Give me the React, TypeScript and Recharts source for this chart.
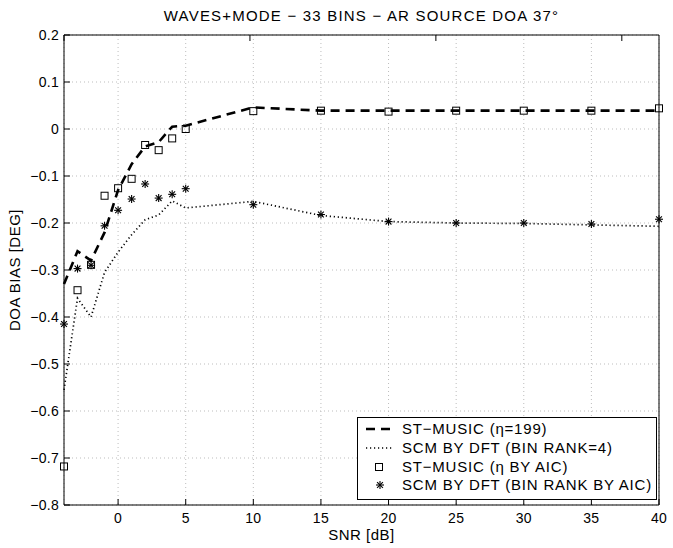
import { CartesianGrid, ComposedChart, Legend, Line, Scatter, XAxis, YAxis } from "recharts";

const snr = [-4, -3, -2, -1, 0, 1, 2, 3, 4, 5, 10, 15, 20, 25, 30, 35, 40];
const stMusicFixed = [-0.33, -0.26, -0.28, -0.22, -0.13, -0.075, -0.037, -0.028, 0.005, 0.007, 0.046, 0.039, 0.039, 0.039, 0.039, 0.039, 0.039];
const scmFixed = [-0.555, -0.36, -0.4, -0.305, -0.262, -0.225, -0.193, -0.183, -0.153, -0.168, -0.154, -0.184, -0.197, -0.2, -0.201, -0.204, -0.207];
const stMusicAic = [-0.718, -0.343, -0.289, -0.142, -0.126, -0.106, -0.034, -0.045, -0.02, 0.0, 0.038, 0.039, 0.037, 0.039, 0.039, 0.039, 0.044];
const scmAic = [-0.415, -0.297, -0.29, -0.206, -0.173, -0.149, -0.117, -0.147, -0.139, -0.127, -0.161, -0.182, -0.197, -0.2, -0.2, -0.202, -0.192];

const xTicks = [0, 5, 10, 15, 20, 25, 30, 35, 40];
const yTicks = [-0.8, -0.7, -0.6, -0.5, -0.4, -0.3, -0.2, -0.1, 0, 0.1, 0.2];

const names = [
  "ST\u2212MUSIC (\u03b7=199)",
  "SCM BY DFT (BIN RANK=4)",
  "ST\u2212MUSIC (\u03b7 BY AIC)",
  "SCM BY DFT (BIN RANK BY AIC)",
];

const data = snr.map((x, i) => ({
  snr: x,
  stFixed: stMusicFixed[i],
  scmFixed: scmFixed[i],
  stAic: stMusicAic[i],
  scmAic: scmAic[i],
}));

const font = "'Liberation Sans', Arial, Helvetica, sans-serif";
const tickStyle = { fontSize: 14, fill: "#000", fontFamily: font, letterSpacing: 0.3 };
const labelProps = { fontSize: 15, fill: "#000", fontFamily: font, letterSpacing: 0.5 };

const fmtY = (v: number) => (v === 0 ? "0" : (v < 0 ? "\u2212" : "") + Math.abs(v).toFixed(1));

function SquareMark({ cx, cy }: any) {
  if (cx == null || cy == null) return null;
  return <rect x={cx - 3.5} y={cy - 3.5} width={7} height={7} fill="none" stroke="#000" strokeWidth={1} />;
}

function StarMark({ cx, cy }: any) {
  if (cx == null || cy == null) return null;
  const r = 4;
  const d = 2.9;
  return (
    <g stroke="#000" strokeWidth={1.1}>
      <line x1={cx - r} y1={cy} x2={cx + r} y2={cy} />
      <line x1={cx} y1={cy - r} x2={cx} y2={cy + r} />
      <line x1={cx - d} y1={cy - d} x2={cx + d} y2={cy + d} />
      <line x1={cx - d} y1={cy + d} x2={cx + d} y2={cy - d} />
    </g>
  );
}

function LegendBox() {
  const swatch = (i: number) => {
    if (i === 0) return <line x1={8} y1={9} x2={35} y2={9} stroke="#000" strokeWidth={2.5} strokeDasharray="9 6" />;
    if (i === 1) return <line x1={8} y1={9} x2={35} y2={9} stroke="#000" strokeWidth={1.6} strokeDasharray="1.2 2.8" />;
    if (i === 2) return <SquareMark cx={21} cy={9} />;
    return <StarMark cx={22} cy={9} />;
  };
  return (
    <div
      style={{
        border: "1px solid #000",
        background: "#fff",
        width: 298,
        height: 79,
        paddingTop: 2,
        boxSizing: "content-box",
        fontFamily: font,
        fontSize: 15,
        letterSpacing: 0.8,
        color: "#000",
      }}
    >
      {names.map((n, i) => (
        <div key={n} style={{ display: "flex", alignItems: "center", height: 18.7 }}>
          <svg width={44} height={18} style={{ flex: "none" }}>
            {swatch(i)}
          </svg>
          <span style={{ whiteSpace: "nowrap", lineHeight: "18px" }}>{n}</span>
        </div>
      ))}
    </div>
  );
}

export default function App() {
  return (
    <div style={{ position: "absolute", left: 0, top: 0, background: "#fff" }}>
      <ComposedChart width={673} height={548} data={data} margin={{ top: 0, right: 0, bottom: 0, left: 0 }}>
        <CartesianGrid stroke="#bdbdbd" strokeDasharray="1 3" />
        <XAxis
          dataKey="snr"
          type="number"
          domain={[-4, 40]}
          ticks={xTicks}
          height={43}
          stroke="#000"
          tickSize={-6}
          tickMargin={14}
          tick={tickStyle}
          label={{ value: "SNR [dB]", position: "insideBottom", offset: 8, ...labelProps, style: labelProps }}
        />
        <XAxis
          xAxisId="top"
          orientation="top"
          type="number"
          domain={[-4, 40]}
          ticks={xTicks}
          height={35}
          stroke="#000"
          tickSize={-6}
          tickFormatter={() => ""}
          label={{
            value: "WAVES+MODE \u2212 33 BINS \u2212 AR SOURCE DOA 37\u00b0",
            position: "insideTop",
            offset: 10,
            ...labelProps,
            letterSpacing: 1.2,
            style: { ...labelProps, letterSpacing: 1.2 },
          }}
        />
        <YAxis
          type="number"
          domain={[-0.8, 0.2]}
          ticks={yTicks}
          width={64}
          stroke="#000"
          tickSize={-6}
          tickMargin={11}
          tick={tickStyle}
          tickFormatter={fmtY}
          label={{
            value: "DOA BIAS [DEG]",
            angle: -90,
            position: "insideLeft",
            offset: 15,
            ...labelProps,
            textAnchor: "middle",
            style: { ...labelProps, textAnchor: "middle" },
          }}
        />
        <YAxis
          yAxisId="right"
          orientation="right"
          type="number"
          domain={[-0.8, 0.2]}
          ticks={yTicks}
          width={14}
          stroke="#000"
          tickSize={-6}
          tickFormatter={() => ""}
        />
        <Legend
          layout="vertical"
          align="center"
          verticalAlign="middle"
          content={() => <LegendBox />}
          wrapperStyle={{ left: 357, top: 417, width: 300 }}
        />
        <Line
          type="linear"
          dataKey="stFixed"
          name={names[0]}
          stroke="#000"
          strokeWidth={2.6}
          strokeDasharray="9 6"
          dot={false}
          isAnimationActive={false}
        />
        <Line
          type="linear"
          dataKey="scmFixed"
          name={names[1]}
          stroke="#000"
          strokeWidth={1.7}
          strokeDasharray="1.2 2.8"
          dot={false}
          isAnimationActive={false}
        />
        <Scatter dataKey="stAic" name={names[2]} shape={(p: any) => <SquareMark {...p} />} isAnimationActive={false} />
        <Scatter dataKey="scmAic" name={names[3]} shape={(p: any) => <StarMark {...p} />} isAnimationActive={false} />
      </ComposedChart>
    </div>
  );
}
